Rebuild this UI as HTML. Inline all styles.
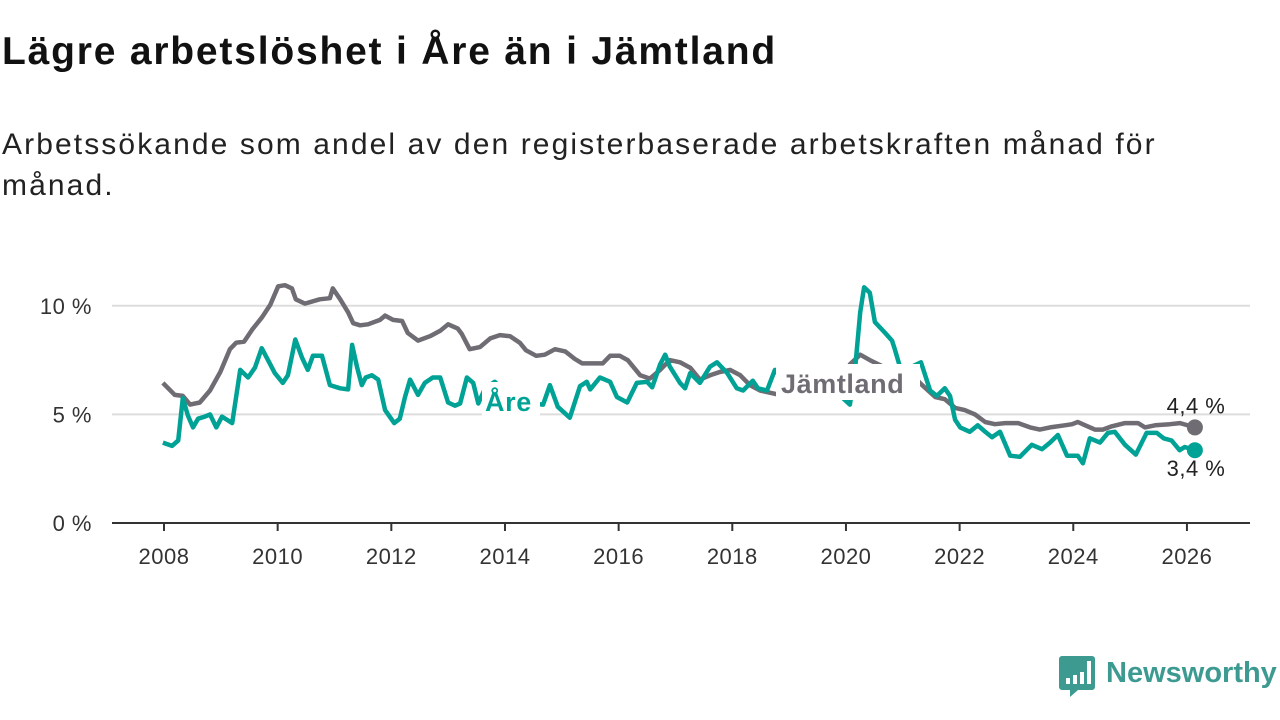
<!DOCTYPE html>
<html><head><meta charset="utf-8">
<style>
body{margin:0;width:1280px;height:720px;background:#fff;overflow:hidden;font-family:"Liberation Sans",sans-serif;}
#title{position:absolute;left:2px;top:30px;font-size:39px;letter-spacing:1.8px;font-weight:bold;color:#111;margin:0}
#sub{position:absolute;left:2px;top:124px;font-size:30px;letter-spacing:2.1px;color:#222;line-height:41px;width:1220px}
svg{position:absolute;left:0;top:0}
</style></head><body>
<h1 id="title">Lägre arbetslöshet i Åre än i Jämtland</h1>
<div id="sub">Arbetssökande som andel av den registerbaserade arbetskraften månad för månad.</div>
<svg id="chart" width="1280" height="720"></svg>
<script>
const jamtYears=[2007.98,2008.19,2008.33,2008.46,2008.63,2008.81,2008.99,2009.16,2009.27,2009.41,2009.55,2009.72,2009.87,2010.01,2010.13,2010.25,2010.32,2010.48,2010.74,2010.92,2010.97,2011.10,2011.24,2011.33,2011.45,2011.59,2011.80,2011.89,2012.03,2012.19,2012.29,2012.47,2012.68,2012.86,2013.00,2013.17,2013.24,2013.38,2013.56,2013.74,2013.91,2014.09,2014.26,2014.37,2014.55,2014.70,2014.88,2015.06,2015.23,2015.36,2015.58,2015.72,2015.85,2016.02,2016.16,2016.38,2016.55,2016.73,2016.90,2017.08,2017.26,2017.43,2017.61,2017.78,2017.96,2018.14,2018.31,2018.49,2018.66,2018.84,2019.19,2019.54,2019.90,2020.07,2020.25,2020.42,2020.69,2020.95,2021.13,2021.34,2021.57,2021.74,2021.92,2022.09,2022.27,2022.45,2022.62,2022.80,2023.03,2023.24,2023.41,2023.59,2023.85,2023.98,2024.08,2024.21,2024.38,2024.52,2024.68,2024.91,2025.14,2025.26,2025.44,2025.70,2025.88,2026.14];
const jamtValues=[6.45,5.9,5.85,5.45,5.55,6.1,6.95,8.0,8.3,8.35,8.9,9.45,10.05,10.9,10.95,10.8,10.3,10.1,10.3,10.35,10.8,10.3,9.7,9.2,9.1,9.15,9.35,9.55,9.35,9.3,8.75,8.4,8.6,8.85,9.15,8.95,8.7,8.0,8.1,8.5,8.65,8.6,8.3,7.95,7.7,7.75,8.0,7.9,7.55,7.35,7.35,7.35,7.7,7.7,7.5,6.8,6.65,7.05,7.5,7.4,7.15,6.6,6.8,6.95,7.05,6.8,6.35,6.1,6.0,5.9,5.9,6.0,6.6,7.3,7.75,7.5,7.15,7.05,6.9,6.35,5.8,5.7,5.3,5.2,5.0,4.65,4.55,4.6,4.6,4.4,4.3,4.4,4.5,4.55,4.65,4.5,4.3,4.3,4.45,4.6,4.6,4.4,4.5,4.55,4.6,4.4];
const areYears=[2007.98,2008.14,2008.25,2008.33,2008.42,2008.51,2008.60,2008.72,2008.81,2008.92,2009.02,2009.20,2009.34,2009.48,2009.60,2009.72,2009.83,2009.95,2010.09,2010.18,2010.31,2010.43,2010.53,2010.62,2010.78,2010.92,2011.10,2011.24,2011.31,2011.40,2011.48,2011.55,2011.66,2011.77,2011.89,2012.05,2012.15,2012.24,2012.33,2012.47,2012.59,2012.73,2012.86,2013.00,2013.12,2013.21,2013.33,2013.44,2013.53,2013.65,2013.82,2014.00,2014.26,2014.48,2014.67,2014.79,2014.93,2015.14,2015.32,2015.44,2015.50,2015.67,2015.85,2015.97,2016.15,2016.32,2016.50,2016.59,2016.73,2016.82,2016.90,2017.08,2017.17,2017.26,2017.43,2017.61,2017.73,2017.91,2018.08,2018.19,2018.36,2018.45,2018.61,2018.75,2019.02,2019.37,2019.72,2020.07,2020.16,2020.25,2020.32,2020.42,2020.51,2020.69,2020.81,2020.86,2020.95,2021.02,2021.16,2021.32,2021.48,2021.60,2021.74,2021.83,2021.92,2022.01,2022.18,2022.32,2022.45,2022.57,2022.71,2022.89,2023.06,2023.27,2023.45,2023.59,2023.73,2023.89,2024.08,2024.17,2024.29,2024.47,2024.61,2024.73,2024.91,2025.10,2025.29,2025.47,2025.59,2025.73,2025.87,2025.96,2026.14];
const areValues=[3.7,3.55,3.8,5.75,4.95,4.4,4.8,4.9,5.0,4.4,4.9,4.6,7.05,6.7,7.15,8.05,7.5,6.9,6.45,6.8,8.45,7.6,7.05,7.7,7.7,6.35,6.2,6.15,8.2,7.15,6.35,6.7,6.8,6.6,5.2,4.6,4.8,5.8,6.6,5.9,6.45,6.7,6.7,5.55,5.4,5.5,6.7,6.45,5.5,6.2,6.5,6.0,5.6,5.5,5.45,6.35,5.35,4.85,6.3,6.5,6.15,6.7,6.5,5.8,5.55,6.45,6.5,6.25,7.3,7.75,7.2,6.45,6.2,6.9,6.45,7.2,7.4,6.9,6.2,6.1,6.55,6.2,6.1,7.05,6.2,6.0,6.3,5.45,7.1,9.7,10.85,10.6,9.25,8.75,8.4,8.0,7.2,7.05,7.2,7.4,6.1,5.85,6.2,5.85,4.75,4.4,4.2,4.5,4.2,3.95,4.2,3.1,3.05,3.6,3.4,3.7,4.05,3.1,3.1,2.75,3.9,3.7,4.15,4.2,3.6,3.15,4.15,4.15,3.9,3.8,3.35,3.5,3.35];
const yTicks=[0,5,10];
const yTickLabels=["0 %","5 %","10 %"];
const xTicks=[2008,2010,2012,2014,2016,2018,2020,2022,2024,2026];

const NS="http://www.w3.org/2000/svg";
const svg=document.getElementById('chart');
const x=v=>164+(v-2008)*56.83;
const y=v=>523-v*21.72;
function mk(t,a,p){const e=document.createElementNS(NS,t);for(const k in a)e.setAttribute(k,a[k]);(p||svg).appendChild(e);return e;}
yTicks.forEach((t,i)=>{
  if(t>0){const g=mk('line',{x1:112,x2:1250,y1:y(t),y2:y(t),stroke:'#ddd','stroke-width':2});
  
  }
  const l=mk('text',{x:92,y:y(t)+8,'text-anchor':'end','font-size':22,fill:'#333','letter-spacing':0.5});
  l.textContent=yTickLabels[i];
  
  
});
const ax=mk('line',{x1:112,x2:1250,y1:523,y2:523,stroke:'#333','stroke-width':2});


xTicks.forEach(t=>{
  const tk=mk('line',{x1:x(t),x2:x(t),y1:523,y2:531,stroke:'#333','stroke-width':2});
  
  
  const l=mk('text',{x:x(t),y:564,'text-anchor':'middle','font-size':22,fill:'#333','letter-spacing':0.5});
  l.textContent=t;
  
  
});
function line(xs,vs,col,name){
  const d=xs.map((v,i)=>(i?'L':'M')+x(v).toFixed(1)+','+y(vs[i]).toFixed(1)).join('');
  const p=mk('path',{d:d,fill:'none',stroke:col,'stroke-width':4.5,'stroke-linejoin':'round'});
  
  
}
line(jamtYears,jamtValues,'#6f6d73','jamtland-line');
line(areYears,areValues,'#00a296','are-line');
mk('rect',{x:776,y:364,width:144,height:36,fill:'#fff'});
mk('rect',{x:482,y:382,width:58,height:34,fill:'#fff'});
const jl=mk('text',{x:781,y:393,'font-size':27,'font-weight':'bold',fill:'#6f6d73','letter-spacing':0.6});
jl.textContent='Jämtland';


const al=mk('text',{x:485,y:411,'font-size':27,'font-weight':'bold',fill:'#00a296','letter-spacing':0.6});
al.textContent='Åre';


const jEnd=jamtValues[jamtValues.length-1], aEnd=areValues[areValues.length-1];
const jd=mk('circle',{cx:x(jamtYears[jamtYears.length-1]),cy:y(jEnd),r:8,fill:'#6f6d73'});


const ad=mk('circle',{cx:x(areYears[areYears.length-1]),cy:y(aEnd),r:8,fill:'#00a296'});


const jv=mk('text',{x:1196,y:y(jEnd)-14,'text-anchor':'middle','font-size':22,fill:'#222','letter-spacing':0.5});
jv.textContent=jEnd.toFixed(1).replace('.',',')+' %';


const av=mk('text',{x:1196,y:y(3.4)+27,'text-anchor':'middle','font-size':22,fill:'#222','letter-spacing':0.5});
av.textContent='3,4 %';


const lg=mk('g',{});


mk('path',{d:'M1062,656 h30 a3,3 0 0 1 3,3 v28 a3,3 0 0 1 -3,3 h-14 l-8,7 v-7 h-8 a3,3 0 0 1 -3,-3 v-28 a3,3 0 0 1 3,-3z',fill:'#3d9a91'},lg);
mk('rect',{x:1066,y:678,width:4,height:6,fill:'#fff'},lg);
mk('rect',{x:1073,y:675,width:4,height:9,fill:'#fff'},lg);
mk('rect',{x:1080,y:672,width:4,height:12,fill:'#fff'},lg);
mk('rect',{x:1087,y:661,width:4,height:23,fill:'#fff'},lg);
const lt=mk('text',{x:1106,y:682,'font-size':29,'font-weight':'bold',fill:'#3d9a91'},lg);
lt.textContent='Newsworthy';
</script>
</body></html>
